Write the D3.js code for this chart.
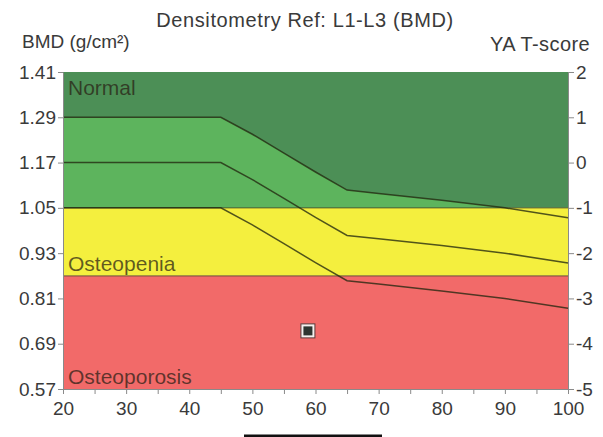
<!DOCTYPE html>
<html lang='en'>
	<head>
		<meta charset='utf-8'>
		<title>Densitometry Ref: L1-L3 (BMD)</title>
		<script type='text/javascript' src='https://d3js.org/d3.v7.min.js'></script>
		<style type='text/css'>
			body {
				margin: 0;
				background: white;
			}
			text {
				font-family: 'Liberation Sans', Arial, sans-serif;
				fill: #3a3a3a;
			}
			.axis path, .axis line {
				stroke: #8a8a8a;
			}
		</style>
	</head>
	<body>
		<script type='text/javascript'>
			// reference curves
			var ages = [20, 45, 50, 55, 60, 65, 70, 80, 90, 100];
			var plusOneSD = [1.29, 1.29, 1.245, 1.195, 1.145, 1.097, 1.088, 1.07, 1.05, 1.024];
			var meanBMD = [1.17, 1.17, 1.125, 1.075, 1.025, 0.977, 0.968, 0.95, 0.93, 0.904];
			var minusOneSD = [1.05, 1.05, 1.005, 0.955, 0.905, 0.857, 0.848, 0.83, 0.81, 0.784];

			// zones: [top, bottom, label]
			var zones = [
				{ name: 'Normal', top: 1.41, bottom: 1.05, color: '#4c8f56' },
				{ name: 'Osteopenia', top: 1.05, bottom: 0.87, color: '#f4ef3e' },
				{ name: 'Osteoporosis', top: 0.87, bottom: 0.57, color: '#f26a69' }
			];

			var bmdTicks = [0.57, 0.69, 0.81, 0.93, 1.05, 1.17, 1.29, 1.41];
			var tscoreTicks = [-5, -4, -3, -2, -1, 0, 1, 2];
			var ageTicks = [20, 25, 30, 35, 40, 45, 50, 55, 60, 65, 70, 75, 80, 85, 90, 95, 100];

			// the patient
			var patient = { age: 58.8, bmd: 0.724 };

			var w = 603;
			var h = 437;
			var margin = { top: 72, right: 35, bottom: 48, left: 63 };

			var svg = d3.select('body')
						.append('svg')
						.attr('width', w)
						.attr('height', h);

			var xScale = d3.scaleLinear()
						.domain([20, 100])
						.range([margin.left, w - margin.right]);

			var yScale = d3.scaleLinear()
						.domain([0.57, 1.41])
						.range([h - margin.bottom, margin.top]);

			var tScale = d3.scaleLinear()
						.domain([-5, 2])
						.range([h - margin.bottom, margin.top]);

			// zone bands
			svg.selectAll('rect.zone')
				.data(zones)
				.enter()
				.append('rect')
				.attr('class', 'zone')
				.attr('x', xScale(20))
				.attr('y', function(d) { return yScale(d.top); })
				.attr('width', xScale(100) - xScale(20))
				.attr('height', function(d) { return yScale(d.bottom) - yScale(d.top); })
				.attr('fill', function(d) { return d.color; });

			// lighter green between +1SD and -1SD, only inside the normal zone
			svg.append('clipPath')
				.attr('id', 'normalClip')
				.append('rect')
				.attr('x', xScale(20))
				.attr('y', yScale(1.41))
				.attr('width', xScale(100) - xScale(20))
				.attr('height', yScale(1.05) - yScale(1.41));

			var band = d3.area()
						.x(function(d, i) { return xScale(ages[i]); })
						.y0(function(d, i) { return yScale(minusOneSD[i]); })
						.y1(function(d, i) { return yScale(plusOneSD[i]); });

			svg.append('path')
				.datum(ages)
				.attr('d', band)
				.attr('fill', '#5db45d')
				.attr('clip-path', 'url(#normalClip)');

			// zone borders
			svg.selectAll('line.border')
				.data([1.05, 0.87])
				.enter()
				.append('line')
				.attr('x1', xScale(20))
				.attr('x2', xScale(100))
				.attr('y1', function(d) { return yScale(d); })
				.attr('y2', function(d) { return yScale(d); })
				.attr('stroke', 'rgba(60,60,30,0.6)')
				.attr('stroke-width', 1.3);

			// reference curves
			var line = d3.line()
						.x(function(d, i) { return xScale(ages[i]); })
						.y(function(d) { return yScale(d); });

			svg.selectAll('path.curve')
				.data([plusOneSD, meanBMD, minusOneSD])
				.enter()
				.append('path')
				.attr('class', 'curve')
				.attr('d', line)
				.attr('fill', 'none')
				.attr('stroke', 'rgba(35,40,15,0.78)')
				.attr('stroke-width', 1.5);

			// zone labels
			svg.selectAll('text.zone')
				.data(zones)
				.enter()
				.append('text')
				.attr('x', xScale(20) + 5)
				.attr('y', function(d, i) { return i == 0 ? yScale(d.top) + 23 : yScale(d.bottom) - 5; })
				.style('font-size', '21px')
				.style('fill', 'rgba(40,30,20,0.72)')
				.text(function(d) { return d.name; });

			// patient marker
			svg.append('rect')
				.attr('x', xScale(patient.age) - 7)
				.attr('y', yScale(patient.bmd) - 7)
				.attr('width', 14)
				.attr('height', 14)
				.attr('fill', '#f4f0ee')
				.attr('stroke', '#5a3a3a')
				.attr('stroke-width', 1);
			svg.append('rect')
				.attr('x', xScale(patient.age) - 4.5)
				.attr('y', yScale(patient.bmd) - 4.5)
				.attr('width', 9)
				.attr('height', 9)
				.attr('fill', '#2e3530');

			// axes
			var yAxis = d3.axisLeft(yScale)
						.tickValues(bmdTicks)
						.tickSize(5)
						.tickSizeOuter(0)
						.tickFormat(d3.format('.2f'));

			var tAxis = d3.axisRight(tScale)
						.tickValues(tscoreTicks)
						.tickSize(6)
						.tickSizeOuter(0)
						.tickFormat(function(d) { return String(d); });

			var xAxis = d3.axisBottom(xScale)
						.tickValues(ageTicks)
						.tickSize(5)
						.tickSizeOuter(0)
						.tickFormat(function(d) { return d % 10 == 0 ? d : ''; });

			var gy = svg.append('g')
				.attr('class', 'axis')
				.attr('transform', 'translate(' + margin.left + ',0)')
				.call(yAxis);

			var gt = svg.append('g')
				.attr('class', 'axis')
				.attr('transform', 'translate(' + (w - margin.right) + ',0)')
				.call(tAxis);

			var gx = svg.append('g')
				.attr('class', 'axis')
				.attr('transform', 'translate(0,' + (h - margin.bottom) + ')')
				.call(xAxis);

			svg.selectAll('.axis text')
				.style('font-size', '19px')
				.style('fill', '#3a3a3a');
			gy.selectAll('text').attr('x', -7);
			gt.selectAll('text').attr('x', 8);
			gx.selectAll('text').attr('y', 13);

			// titles
			svg.append('text')
				.attr('x', 305)
				.attr('y', 27)
				.attr('text-anchor', 'middle')
				.style('font-size', '20px')
				.style('letter-spacing', '0.6px')
				.text('Densitometry Ref: L1-L3 (BMD)');

			svg.append('text')
				.attr('x', 22)
				.attr('y', 48)
				.style('font-size', '19px')
				.text('BMD (g/cm²)');

			svg.append('text')
				.attr('x', 590)
				.attr('y', 51)
				.attr('text-anchor', 'end')
				.style('font-size', '20px')
				.style('letter-spacing', '0.4px')
				.text('YA T-score');

			// dark strip at the foot of the scan
			svg.append('rect')
				.attr('x', 244)
				.attr('y', 434.5)
				.attr('width', 138)
				.attr('height', 2.5)
				.attr('fill', '#111');
		</script>
	</body>
</html>
